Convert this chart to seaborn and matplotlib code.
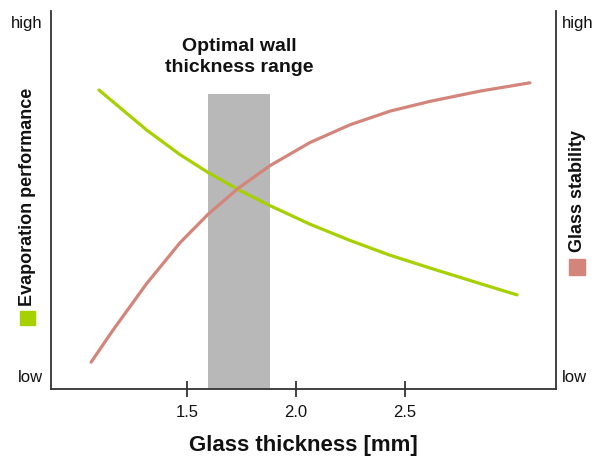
import numpy as np
import pandas as pd
import seaborn as sns
import matplotlib.pyplot as plt
from matplotlib.patches import Rectangle

# values (relative scale 0 = low, 1 = high)
evap_x = [1.096, 1.315, 1.468, 1.596, 1.743, 1.881, 2.064, 2.248, 2.431, 2.615, 2.844, 3.014]
evap_y = [0.791, 0.685, 0.620, 0.573, 0.525, 0.485, 0.436, 0.393, 0.354, 0.320, 0.279, 0.249]

stab_x = [1.060, 1.162, 1.315, 1.468, 1.598, 1.735, 1.881, 2.064, 2.248, 2.431, 2.615, 2.844, 3.073]
stab_y = [0.071, 0.157, 0.279, 0.387, 0.463, 0.531, 0.591, 0.652, 0.699, 0.735, 0.761, 0.788, 0.810]

optimal_range = [1.596, 1.881]
optimal_top = 0.78

x_ticks = [1.5, 2.0, 2.5]
x_ticklabels = ['1.5', '2.0', '2.5']
y_ticks = [0.035, 0.97]
y_ticklabels = ['low', 'high']

green = '#a6d000'
red = '#d4857b'
spine_col = '#333333'
text_col = '#111111'

sns.set_style('ticks')
plt.rcParams['font.family'] = ['Liberation Sans', 'DejaVu Sans']

df_evap = pd.DataFrame({'x': evap_x, 'y': evap_y})
df_stab = pd.DataFrame({'x': stab_x, 'y': stab_y})

fig = plt.figure(figsize=(5.95, 4.59), dpi=100)
ax = fig.add_axes([51 / 595, 1 - 389 / 459, 505 / 595, 378 / 459])
ax2 = ax.twinx()

# optimal range band
ax.axvspan(optimal_range[0], optimal_range[1], ymin=0, ymax=optimal_top,
           color='#b8b8b8', lw=0, zorder=0)

sns.lineplot(data=df_evap, x='x', y='y', ax=ax, color=green, linewidth=2.3, sort=False)
sns.lineplot(data=df_stab, x='x', y='y', ax=ax2, color=red, linewidth=2.3, sort=False)

for a in (ax, ax2):
    a.set_xlim(0.876, 3.193)
    a.set_ylim(0, 1)
    a.spines['top'].set_visible(False)
    for s in a.spines.values():
        s.set_color(spine_col)
        s.set_linewidth(1.3)
    a.set_ylabel('')

ax.spines['right'].set_visible(False)
ax2.spines['left'].set_visible(False)
ax2.spines['bottom'].set_visible(False)

ax.set_xticks(x_ticks)
ax.set_xticklabels(x_ticklabels)
ax.tick_params(axis='x', direction='inout', length=11, width=1.3, color=spine_col,
               labelsize=12, pad=6, labelcolor=text_col)

ax.set_yticks(y_ticks)
ax.set_yticklabels(y_ticklabels)
ax.tick_params(axis='y', length=0, labelsize=12, pad=6, labelcolor=text_col)
ax2.set_yticks(y_ticks)
ax2.set_yticklabels(y_ticklabels)
ax2.tick_params(axis='y', length=0, labelsize=12, pad=4, labelcolor=text_col)

ax.set_xlabel('Glass thickness [mm]', fontsize=16, fontweight='bold', color=text_col)
ax.xaxis.set_label_coords(0.5, -0.122)

# band annotation
ax.text(np.mean(optimal_range), 0.878, 'Optimal wall\nthickness range', ha='center', va='center',
        fontsize=14, fontweight='bold', linespacing=1.35, color=text_col)

# axis titles with colour keys
fig.text(28 / 595, 1 - 197 / 459, 'Evaporation performance', rotation=90, ha='center', va='center',
         fontsize=13, fontweight='bold', color=text_col)
fig.text(577 / 595, 1 - 191 / 459, 'Glass stability', rotation=90, ha='center', va='center',
         fontsize=13, fontweight='bold', color=text_col)
fig.patches.append(Rectangle((20 / 595, 1 - 325 / 459), 15 / 595, 14 / 459,
                             transform=fig.transFigure, color=green, figure=fig))
fig.patches.append(Rectangle((569 / 595, 1 - 275 / 459), 16 / 595, 16 / 459,
                             transform=fig.transFigure, color=red, figure=fig))

fig.savefig('out.png', dpi=100)
